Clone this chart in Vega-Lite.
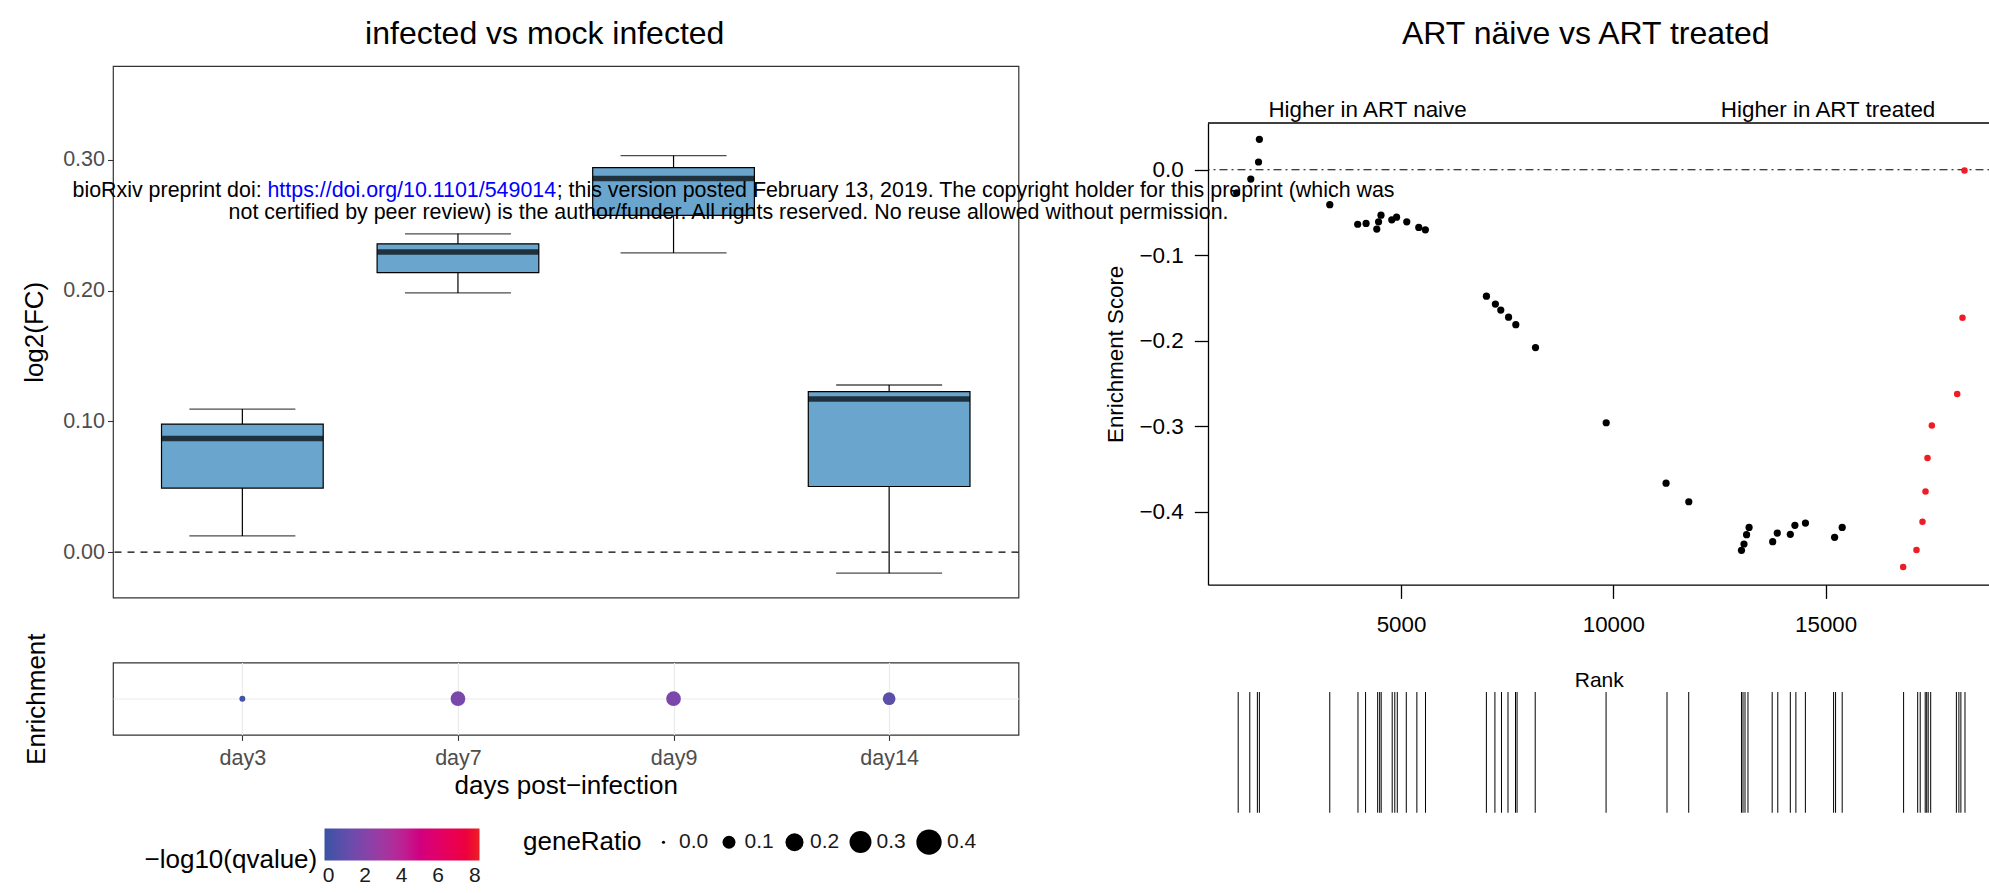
{
  "$schema": "https://vega.github.io/schema/vega-lite/v6.json",
  "background": "white",
  "padding": {"left": 21, "top": 17, "right": 0, "bottom": 0},
  "bounds": "flush",
  "spacing": 1095,
  "config": {
    "font": "Liberation Sans",
    "view": {"stroke": null},
    "axis": {"labelFont": "Liberation Sans", "titleFont": "Liberation Sans", "titleFontWeight": "normal", "grid": false},
    "legend": {"labelFont": "Liberation Sans", "titleFont": "Liberation Sans", "titleFontWeight": "normal", "padding": 0},
    "title": {"font": "Liberation Sans", "fontWeight": "normal", "fontSize": 32, "color": "black"},
    "text": {"font": "Liberation Sans"}
  },
  "hconcat": [
    {
      "bounds": "flush",
      "spacing": 64.5,
      "vconcat": [
        {
          "width": 905.5,
          "height": 531.6,
          "view": {"stroke": "#333333", "strokeWidth": 1.2},
          "title": {"text": "infected vs mock infected", "anchor": "middle", "frame": "group", "offset": -10, "baseline": "alphabetic", "dx": -21},
          "resolve": {"scale": {"x": "independent"}},
          "layer": [
            {
              "data": {"values": [{}]},
              "mark": {"type": "rule", "color": "black", "strokeWidth": 1.2, "strokeDash": [7, 6]},
              "encoding": {
                "y": {"datum": 0, "type": "quantitative",
                  "scale": {"domain": [-0.0347, 0.3716], "nice": false, "zero": false},
                  "axis": {"title": "log2(FC)", "values": [0, 0.1, 0.2, 0.3], "format": ".2f", "domain": false, "ticks": true, "tickColor": "#333333", "tickSize": 5.5, "tickWidth": 1.1, "labelFontSize": 21.5, "labelColor": "#4D4D4D", "labelPadding": 3, "titleFontSize": 26, "titleColor": "black", "titlePadding": 15, "labelFlush": false, "labelOverlap": false}}
              }
            },
            {
              "data": {"values": [
                {"day": "day3", "lower": 0.0124, "q1": 0.049, "median": 0.0869, "q3": 0.0979, "upper": 0.1094},
                {"day": "day7", "lower": 0.1982, "q1": 0.2137, "median": 0.2294, "q3": 0.2357, "upper": 0.2433},
                {"day": "day9", "lower": 0.2288, "q1": 0.2575, "median": 0.2856, "q3": 0.294, "upper": 0.3031},
                {"day": "day14", "lower": -0.016, "q1": 0.0502, "median": 0.117, "q3": 0.1227, "upper": 0.1278}
              ]},
              "encoding": {
                "x": {"field": "day", "type": "nominal", "sort": ["day3", "day7", "day9", "day14"],
                  "scale": {"type": "band", "paddingInner": 0.25, "paddingOuter": 0.225}, "axis": null}
              },
              "layer": [
                {
                  "mark": {"type": "rule", "color": "black", "strokeWidth": 1.2},
                  "encoding": {
                    "y": {"field": "lower", "type": "quantitative", "scale": {"domain": [-0.0347, 0.3716], "nice": false, "zero": false}},
                    "y2": {"field": "upper"}
                  }
                },
                {
                  "mark": {"type": "bar", "fill": "#6aa5ce", "stroke": "black", "strokeWidth": 1.2},
                  "encoding": {
                    "y": {"field": "q1", "type": "quantitative", "scale": {"domain": [-0.0347, 0.3716], "nice": false, "zero": false}},
                    "y2": {"field": "q3"}
                  }
                },
                {
                  "mark": {"type": "tick", "color": "black", "size": 161.5, "thickness": 5.5, "orient": "horizontal"},
                  "encoding": {
                    "y": {"field": "median", "type": "quantitative", "scale": {"domain": [-0.0347, 0.3716], "nice": false, "zero": false}}
                  }
                },
                {
                  "mark": {"type": "tick", "color": "black", "size": 106, "thickness": 1.3, "orient": "horizontal"},
                  "encoding": {
                    "y": {"field": "upper", "type": "quantitative", "scale": {"domain": [-0.0347, 0.3716], "nice": false, "zero": false}}
                  }
                },
                {
                  "mark": {"type": "tick", "color": "black", "size": 106, "thickness": 1.3, "orient": "horizontal"},
                  "encoding": {
                    "y": {"field": "lower", "type": "quantitative", "scale": {"domain": [-0.0347, 0.3716], "nice": false, "zero": false}}
                  }
                }
              ]
            },
            {
              "data": {"values": [{}]},
              "mark": {"type": "text", "text": "bioRxiv preprint doi:", "align": "right", "baseline": "alphabetic", "fontSize": 21.4, "color": "black"},
              "encoding": {
                "x": {"datum": 0.1641, "type": "quantitative", "scale": {"domain": [0, 1], "nice": false, "zero": false}, "axis": null},
                "y": {"datum": 0.2713, "type": "quantitative", "scale": {"domain": [-0.0347, 0.3716], "nice": false, "zero": false}}
              }
            },
            {
              "data": {"values": [{}]},
              "mark": {"type": "text", "text": "https://doi.org/10.1101/549014", "align": "left", "baseline": "alphabetic", "fontSize": 21.4, "color": "#0000FF"},
              "encoding": {
                "x": {"datum": 0.1706, "type": "quantitative", "scale": {"domain": [0, 1], "nice": false, "zero": false}, "axis": null},
                "y": {"datum": 0.2713, "type": "quantitative", "scale": {"domain": [-0.0347, 0.3716], "nice": false, "zero": false}}
              }
            },
            {
              "data": {"values": [{}]},
              "mark": {"type": "text", "text": "; this version posted February 13, 2019. The copyright holder for this preprint (which was", "align": "left", "baseline": "alphabetic", "fontSize": 21.4, "color": "black"},
              "encoding": {
                "x": {"datum": 0.49, "type": "quantitative", "scale": {"domain": [0, 1], "nice": false, "zero": false}, "axis": null},
                "y": {"datum": 0.2713, "type": "quantitative", "scale": {"domain": [-0.0347, 0.3716], "nice": false, "zero": false}}
              }
            },
            {
              "data": {"values": [{}]},
              "mark": {"type": "text", "text": "not certified by peer review) is the author/funder. All rights reserved. No reuse allowed without permission.", "align": "center", "baseline": "alphabetic", "fontSize": 21.4, "color": "black"},
              "encoding": {
                "x": {"datum": 0.6798, "type": "quantitative", "scale": {"domain": [0, 1], "nice": false, "zero": false}, "axis": null},
                "y": {"datum": 0.2544, "type": "quantitative", "scale": {"domain": [-0.0347, 0.3716], "nice": false, "zero": false}}
              }
            }
          ]
        },
        {
          "width": 905.5,
          "height": 72.4,
          "view": {"stroke": "#333333", "strokeWidth": 1.2},
          "data": {"values": [
            {"day": "day3", "term": "pathway", "geneRatio": 0.016, "qv": 0.15},
            {"day": "day7", "term": "pathway", "geneRatio": 0.13, "qv": 1.7},
            {"day": "day9", "term": "pathway", "geneRatio": 0.13, "qv": 1.75},
            {"day": "day14", "term": "pathway", "geneRatio": 0.096, "qv": 0.75}
          ]},
          "mark": {"type": "circle", "opacity": 1},
          "encoding": {
            "x": {"field": "day", "type": "nominal", "sort": ["day3", "day7", "day9", "day14"],
              "scale": {"type": "point", "padding": 0.6},
              "axis": {"title": "days post−infection", "labelAngle": 0, "grid": true, "gridColor": "#EBEBEB", "gridWidth": 1.2, "domain": false, "tickColor": "#333333", "tickSize": 5.5, "tickWidth": 1.1, "labelFontSize": 21.5, "labelColor": "#4D4D4D", "labelPadding": 7, "titleFontSize": 26, "titleColor": "black", "titlePadding": 4}},
            "y": {"field": "term", "type": "nominal",
              "axis": {"title": "Enrichment", "labels": false, "ticks": false, "domain": false, "grid": true, "gridColor": "#EBEBEB", "gridWidth": 1.2, "titleFontSize": 26, "titleColor": "black", "titlePadding": 64}},
            "size": {"field": "geneRatio", "type": "quantitative",
              "scale": {"domain": [0, 0.4], "range": [10, 640]},
              "legend": {"title": "geneRatio", "orient": "none", "legendX": 410, "legendY": 763, "direction": "horizontal", "titleOrient": "left", "titleAnchor": "middle", "titleBaseline": "middle", "titleFontSize": 26, "titleColor": "black", "titlePadding": 11, "values": [0, 0.1, 0.2, 0.3, 0.4], "format": ".1f", "symbolType": "circle", "symbolFillColor": "black", "symbolStrokeWidth": 0, "labelFontSize": 21, "labelColor": "#1a1a1a", "labelOffset": 5, "columnPadding": 9.5,
                "encode": {"symbols": {"update": {"fill": {"value": "black"}, "stroke": {"value": "transparent"}, "opacity": {"value": 1}}}}}},
            "color": {"field": "qv", "type": "quantitative",
              "scale": {"domain": [-0.22, 8.26], "range": ["#3953A4", "#ED2024"], "interpolate": "hcl"},
              "legend": {"title": "−log10(qvalue)", "orient": "none", "legendX": 31.5, "legendY": 762.4, "direction": "horizontal", "titleOrient": "left", "titleAnchor": "end", "titleBaseline": "middle", "titleFontSize": 26, "titleColor": "black", "titlePadding": 7, "gradientLength": 155, "gradientThickness": 32, "gradientStrokeWidth": 0, "values": [0, 2, 4, 6, 8], "labelFontSize": 21, "labelColor": "#1a1a1a", "labelOffset": 5}}
          }
        }
      ]
    },
    {
      "bounds": "flush",
      "spacing": 6,
      "vconcat": [
        {
          "width": 781.5,
          "height": 50.1,
          "title": {"text": "ART näive vs ART treated", "anchor": "middle", "frame": "group", "offset": -10, "baseline": "alphabetic", "dx": -13},
          "data": {"values": [{}]},
          "mark": {"type": "text", "text": ""},
          "encoding": {}
        },
        {
          "width": 781.5,
          "height": 461.7,
          "layer": [
            {
              "data": {"values": [{}]},
              "mark": {"type": "rule", "color": "black", "strokeWidth": 1.1, "strokeDash": [2, 4, 8, 4]},
              "encoding": {
                "y": {"datum": 0, "type": "quantitative",
                  "scale": {"domain": [-0.4854, 0.0546], "nice": false, "zero": false},
                  "axis": {"title": "Enrichment Score", "values": [0, -0.1, -0.2, -0.3, -0.4], "format": ".1f", "domain": true, "domainColor": "black", "domainWidth": 1.3, "tickColor": "black", "tickSize": 13.7, "tickWidth": 1.3, "labelFontSize": 22.5, "labelColor": "black", "labelPadding": 11, "titleFontSize": 22.3, "titleColor": "black", "titlePadding": 11, "labelFlush": false, "labelOverlap": false}}
              }
            },
            {
              "data": {"values": [{}]},
              "mark": {"type": "rule", "color": "black", "strokeWidth": 1.3},
              "encoding": {
                "y": {"datum": 0.0546, "type": "quantitative", "scale": {"domain": [-0.4854, 0.0546], "nice": false, "zero": false}}
              }
            },
            {
              "data": {"values": [
                {"rank": 1130, "es": -0.027, "lead": "no"},
                {"rank": 1463, "es": -0.011, "lead": "no"},
                {"rank": 1645, "es": 0.009, "lead": "no"},
                {"rank": 1665, "es": 0.0355, "lead": "no"},
                {"rank": 3323, "es": -0.0409, "lead": "no"},
                {"rank": 3980, "es": -0.0638, "lead": "no"},
                {"rank": 4178, "es": -0.0629, "lead": "no"},
                {"rank": 4430, "es": -0.0694, "lead": "no"},
                {"rank": 4472, "es": -0.061, "lead": "no"},
                {"rank": 4529, "es": -0.0532, "lead": "no"},
                {"rank": 4783, "es": -0.0587, "lead": "no"},
                {"rank": 4896, "es": -0.0555, "lead": "no"},
                {"rank": 5136, "es": -0.061, "lead": "no"},
                {"rank": 5419, "es": -0.0675, "lead": "no"},
                {"rank": 5574, "es": -0.0703, "lead": "no"},
                {"rank": 7012, "es": -0.148, "lead": "no"},
                {"rank": 7223, "es": -0.1572, "lead": "no"},
                {"rank": 7350, "es": -0.1642, "lead": "no"},
                {"rank": 7534, "es": -0.1725, "lead": "no"},
                {"rank": 7704, "es": -0.1813, "lead": "no"},
                {"rank": 8168, "es": -0.2081, "lead": "no"},
                {"rank": 9833, "es": -0.296, "lead": "no"},
                {"rank": 11243, "es": -0.3667, "lead": "no"},
                {"rank": 11778, "es": -0.3884, "lead": "no"},
                {"rank": 13019, "es": -0.4452, "lead": "no"},
                {"rank": 13078, "es": -0.4378, "lead": "no"},
                {"rank": 13139, "es": -0.4269, "lead": "no"},
                {"rank": 13198, "es": -0.4184, "lead": "no"},
                {"rank": 13754, "es": -0.4351, "lead": "no"},
                {"rank": 13862, "es": -0.425, "lead": "no"},
                {"rank": 14169, "es": -0.4265, "lead": "no"},
                {"rank": 14277, "es": -0.416, "lead": "no"},
                {"rank": 14525, "es": -0.4133, "lead": "no"},
                {"rank": 15212, "es": -0.43, "lead": "no"},
                {"rank": 15391, "es": -0.4184, "lead": "no"},
                {"rank": 16827, "es": -0.4647, "lead": "yes"},
                {"rank": 17141, "es": -0.4449, "lead": "yes"},
                {"rank": 17282, "es": -0.4118, "lead": "yes"},
                {"rank": 17353, "es": -0.3765, "lead": "yes"},
                {"rank": 17400, "es": -0.3371, "lead": "yes"},
                {"rank": 17502, "es": -0.2991, "lead": "yes"},
                {"rank": 18099, "es": -0.2623, "lead": "yes"},
                {"rank": 18224, "es": -0.1732, "lead": "yes"},
                {"rank": 18271, "es": -0.0009, "lead": "yes"}
              ]},
              "mark": {"type": "circle", "opacity": 1},
              "encoding": {
                "x": {"field": "rank", "type": "quantitative",
                  "scale": {"domain": [455, 18860], "nice": false, "zero": false},
                  "axis": {"title": "Rank", "values": [5000, 10000, 15000], "format": "d", "domain": true, "domainColor": "black", "domainWidth": 1.3, "tickColor": "black", "tickSize": 13.7, "tickWidth": 1.3, "labelFontSize": 22.3, "labelColor": "black", "labelPadding": 15, "titleFontSize": 21, "titleColor": "black", "titlePadding": 34, "labelFlush": false, "labelOverlap": false}},
                "y": {"field": "es", "type": "quantitative", "scale": {"domain": [-0.4854, 0.0546], "nice": false, "zero": false}},
                "color": {"field": "lead", "type": "nominal", "scale": {"domain": ["no", "yes"], "range": ["#000000", "#EE1C25"]}, "legend": null},
                "size": {"field": "lead", "type": "nominal", "scale": {"domain": ["no", "yes"], "range": [52, 42]}, "legend": null}
              }
            },
            {
              "data": {"values": [{}]},
              "mark": {"type": "text", "text": "Higher in ART naive", "align": "center", "baseline": "alphabetic", "fontSize": 22.4, "color": "black"},
              "encoding": {
                "x": {"datum": 4213, "type": "quantitative", "scale": {"domain": [455, 18860], "nice": false, "zero": false}},
                "y": {"datum": 0.0615, "type": "quantitative", "scale": {"domain": [-0.4854, 0.0546], "nice": false, "zero": false}}
              }
            },
            {
              "data": {"values": [{}]},
              "mark": {"type": "text", "text": "Higher in ART treated", "align": "center", "baseline": "alphabetic", "fontSize": 22.4, "color": "black"},
              "encoding": {
                "x": {"datum": 15058, "type": "quantitative", "scale": {"domain": [455, 18860], "nice": false, "zero": false}},
                "y": {"datum": 0.0615, "type": "quantitative", "scale": {"domain": [-0.4854, 0.0546], "nice": false, "zero": false}}
              }
            }
          ]
        },
        {
          "width": 781.5,
          "height": 224,
          "data": {"values": [
            {"rank": 1166}, {"rank": 1439}, {"rank": 1618}, {"rank": 1665}, {"rank": 3323},
            {"rank": 3987}, {"rank": 4166}, {"rank": 4451}, {"rank": 4498}, {"rank": 4534},
            {"rank": 4793}, {"rank": 4854}, {"rank": 4913}, {"rank": 5125}, {"rank": 5374},
            {"rank": 5577}, {"rank": 7011}, {"rank": 7212}, {"rank": 7367}, {"rank": 7520},
            {"rank": 7697}, {"rank": 7734}, {"rank": 8161}, {"rank": 9830}, {"rank": 11265},
            {"rank": 11776}, {"rank": 13019}, {"rank": 13055}, {"rank": 13102}, {"rank": 13172},
            {"rank": 13742}, {"rank": 13874}, {"rank": 14169}, {"rank": 14300}, {"rank": 14524},
            {"rank": 15188}, {"rank": 15235}, {"rank": 15391}, {"rank": 16837}, {"rank": 17169},
            {"rank": 17228}, {"rank": 17346}, {"rank": 17381}, {"rank": 17416}, {"rank": 17475},
            {"rank": 18080}, {"rank": 18139}, {"rank": 18186}, {"rank": 18283}
          ]},
          "mark": {"type": "rule", "color": "black", "strokeWidth": 1},
          "encoding": {
            "x": {"field": "rank", "type": "quantitative", "scale": {"domain": [455, 18860], "nice": false, "zero": false}, "axis": null},
            "y": {"datum": 0.01, "type": "quantitative", "scale": {"domain": [0, 1], "nice": false, "zero": false}, "axis": null},
            "y2": {"datum": 0.549}
          }
        }
      ]
    }
  ]
}
